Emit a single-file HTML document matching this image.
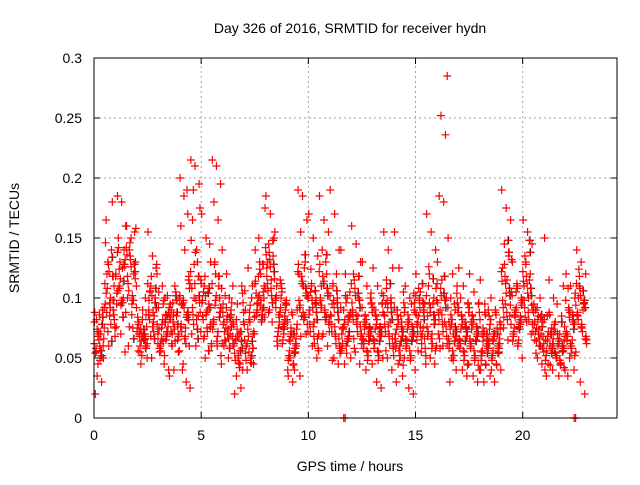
<!DOCTYPE html>
<html><head><meta charset="utf-8"><style>
body{margin:0;background:#fff}
svg text{font-family:"Liberation Sans",sans-serif;font-size:14px;fill:#000}
</style></head><body>
<svg id="chart" width="640" height="480" viewBox="0 0 640 480" xmlns="http://www.w3.org/2000/svg">
<rect width="640" height="480" fill="#fff"/>
<text x="350" y="33" text-anchor="middle">Day 326 of 2016, SRMTID for receiver hydn</text>
<text x="350" y="471" text-anchor="middle">GPS time / hours</text>
<text transform="translate(19,238) rotate(-90)" text-anchor="middle">SRMTID / TECUs</text>
<g id="grid"></g><g id="blackmarks"></g><g id="marks"></g>
<rect x="94" y="58" width="523" height="360" fill="none" stroke="#000" stroke-width="1"/>
<g id="axes"></g>
</svg>
<script>
const xTicks=[0,5,10,15,20];
const yTicks=[0,0.05,0.1,0.15,0.2,0.25,0.3];
const yTickLabels=["0","0.05","0.1","0.15","0.2","0.25","0.3"];
const binWidth=0.5;
const binValues=[
[80,65,50,35,30,20,60,75,45,90,55,70],
[95,85,110,130,180,165,100,75,60,90,120,140],
[120,130,140,185,180,160,110,100,95,70,55,150,125],
[160,150,130,140,120,100,95,110,135,155,60,75],
[75,70,60,55,65,80,90,50,45,100,70,65],
[155,135,120,110,100,90,80,70,50,125,105,85],
[105,95,85,75,65,55,45,40,110,70,60,100],
[35,40,55,70,85,95,110,100,80,65,90,105],
[200,185,170,160,140,115,95,75,60,40,30,25,45,190],
[215,210,195,165,140,115,100,85,70,60,175,190,130],
[170,150,130,110,95,85,75,60,50,145,105,90],
[215,210,195,180,165,140,120,100,80,60,45,130,110],
[95,85,80,75,70,60,50,110,120,90,65,100],
[60,50,40,35,25,20,70,80,95,110,65,45],
[65,55,45,40,100,90,80,70,125,110,60,50],
[140,130,110,100,90,85,120,175,150,105,95,80],
[185,170,155,145,135,125,115,100,90,150,130,80],
[110,100,90,80,70,60,105,95,115,85,75,65],
[80,70,60,50,40,35,30,90,75,55,65,45],
[190,185,165,155,130,120,110,100,85,70,35,125],
[170,150,135,110,100,90,80,70,60,50,105,95],
[185,165,155,140,120,100,90,80,70,60,110,130],
[190,170,140,110,100,85,70,60,50,45,95,120],
[140,120,105,90,80,70,60,50,45,85,75,100],
[160,145,130,115,100,90,80,70,55,45,120,85],
[130,110,95,85,75,65,55,45,40,100,80,70],
[125,110,95,85,75,65,55,50,30,25,90,70],
[155,140,125,115,100,85,70,60,50,40,95,80],
[155,125,105,90,80,70,60,50,45,35,30,85],
[110,100,90,80,70,60,50,40,25,20,65,95],
[120,105,95,85,75,65,55,45,100,90,80,70],
[170,155,140,120,100,85,70,60,50,45,110,95],
[130,115,100,90,80,70,60,285,252,236,185,180],
[150,120,110,100,90,80,70,60,50,40,30,95],
[125,110,95,85,75,65,55,45,40,35,100,80],
[120,105,95,85,70,60,50,40,35,30,80,65],
[115,95,85,75,65,55,45,35,30,90,70,60],
[100,90,80,70,60,50,45,40,30,55,65,75],
[190,175,165,145,135,125,115,105,95,85,75,65],
[130,110,100,90,80,70,60,50,105,85,75,65],
[165,155,145,130,120,110,100,90,80,70,135,115],
[95,85,80,75,70,65,60,55,50,45,90,100],
[150,115,100,85,75,65,60,55,45,40,35,70],
[80,70,65,60,55,50,45,40,35,110,95,85],
[120,110,100,90,80,70,60,55,50,40,35,65],
[140,130,120,110,95,85,75,65,30,20,100,90]
];
const binValuesDense=[
[62,72,84,58,48,92,68,78,54,86,66,74,52,88,70,60,82,56],
[112,122,98,88,78,68,128,118,104,92,82,72,134,146,96,86,108,64],
[118,108,128,138,98,88,124,114,104,94,132,142,84,76,116,126,106,96],
[142,132,122,112,102,92,146,128,118,86,158,76,66,136,126,116,106,98],
[72,64,58,78,68,62,74,66,56,82,76,60,70,84,52,86,68,74],
[112,102,92,82,72,62,118,108,98,88,78,68,96,86,76,128,106,66],
[92,82,72,62,52,88,78,68,58,98,76,66,86,74,64,102,56,80],
[92,86,78,72,64,56,96,88,82,74,68,60,98,84,76,70,62,102],
[102,92,82,72,62,112,98,88,78,68,108,96,86,76,66,118,94,84],
[122,112,102,92,82,72,128,118,108,98,88,78,66,148,138,96,86,74],
[112,102,92,82,72,62,118,108,98,88,78,68,56,96,86,76,66,104],
[112,102,92,82,72,62,98,88,78,68,108,94,84,74,64,52,128,118],
[88,82,76,72,66,62,92,86,80,74,68,64,84,78,70,96,102,58],
[78,68,58,48,42,88,74,64,54,46,96,82,72,62,52,104,66,56],
[78,68,58,48,94,84,74,64,54,88,72,62,52,106,82,70,60,46],
[112,102,92,88,98,108,118,128,104,94,84,96,86,114,124,100,90,82],
[142,132,122,112,102,92,138,128,118,108,98,88,148,136,126,116,106,96],
[102,92,82,72,62,98,88,78,68,108,94,84,74,64,112,96,86,76],
[82,72,62,52,44,78,68,58,48,86,74,64,54,40,88,66,56,70],
[122,112,102,92,82,72,118,108,98,88,78,68,136,128,114,104,94,84],
[102,92,82,72,62,56,98,88,78,68,58,112,96,86,76,66,124,106],
[122,112,102,92,82,72,118,108,98,88,78,68,136,128,114,104,94,84],
[102,92,82,72,62,54,98,88,78,68,58,112,96,86,76,66,48,106],
[92,82,72,62,54,88,78,68,58,96,86,76,66,56,102,84,74,64],
[112,102,92,82,72,62,108,98,88,78,68,58,118,96,86,76,66,104],
[92,82,72,62,52,88,78,68,58,48,96,86,76,66,56,104,74,64],
[92,82,72,62,52,88,78,68,58,48,96,86,76,66,56,104,74,64],
[102,92,82,72,62,52,98,88,78,68,58,108,96,86,76,66,56,112],
[92,82,72,62,52,88,78,68,58,48,96,86,76,66,56,44,74,64],
[92,82,72,62,52,88,78,68,58,48,96,86,76,66,56,104,74,64],
[102,92,82,72,62,52,98,88,78,68,58,108,96,86,76,66,56,112],
[102,92,82,72,62,98,88,78,68,58,108,96,86,76,66,56,126,116],
[112,102,92,82,72,62,108,98,88,78,68,58,118,96,86,76,66,104],
[92,82,72,62,52,88,78,68,58,48,96,86,76,66,56,104,74,64],
[92,82,72,62,52,88,78,68,58,48,96,86,76,66,56,44,74,64],
[92,82,72,62,52,88,78,68,58,48,96,86,76,66,56,44,74,64],
[82,72,62,52,44,78,68,58,48,86,74,64,54,40,88,66,56,70],
[82,72,62,52,44,78,68,58,48,86,74,64,54,40,88,66,56,70],
[122,112,102,92,82,132,118,108,98,88,78,128,138,114,104,94,84,148],
[102,92,82,72,62,98,88,78,68,108,94,84,74,64,112,96,86,76],
[122,112,102,92,82,72,118,108,98,88,78,128,138,114,104,94,84,148],
[88,82,76,72,66,62,92,86,80,74,68,64,84,78,70,58,54,60],
[82,72,62,52,44,78,68,58,48,86,74,64,54,40,88,66,56,70],
[72,64,58,52,46,68,62,56,50,44,76,66,60,54,48,42,70,80],
[98,88,78,68,58,94,84,74,64,54,104,92,82,72,62,52,108,86],
[112,102,92,82,72,62,108,98,88,78,68,118,96,86,76,66,124,106]
];
const zeroTimes=[11.65,22.4];
const NS="http://www.w3.org/2000/svg";
const X0=94,X1=617,XMAX=24.4,Y0=418,Y1=58,YMAX=0.3;
function xs(t){return X0+(X1-X0)*t/XMAX;}
function ys(v){return Y0-(Y0-Y1)*v/YMAX;}
function mk(tag,attrs,parent){const e=document.createElementNS(NS,tag);for(const k in attrs)e.setAttribute(k,attrs[k]);parent.appendChild(e);return e;}
const grid=document.getElementById('grid'),axes=document.getElementById('axes'),marks=document.getElementById('marks'),blackmarks=document.getElementById('blackmarks');
xTicks.forEach(t=>{const x=xs(t);
 if(t>0){const g=mk('line',{x1:x,x2:x,y1:Y0,y2:Y1,stroke:'#a0a0a0','stroke-dasharray':'2,3'},grid);
 
 }
 mk('line',{x1:x,x2:x,y1:Y0,y2:Y0-6,stroke:'#000'},axes);
 mk('line',{x1:x,x2:x,y1:Y1,y2:Y1+6,stroke:'#000'},axes);
 const l=mk('text',{x:x,y:Y0+22,'text-anchor':'middle'},axes);l.textContent=String(t);
 
 
});
yTicks.forEach((v,i)=>{const y=ys(v);
 if(v>0&&v<YMAX){const g=mk('line',{x1:X0,x2:X1,y1:y,y2:y,stroke:'#a0a0a0','stroke-dasharray':'2,3'},grid);
 
 }
 mk('line',{x1:X0,x2:X0+6,y1:y,y2:y,stroke:'#000'},axes);
 mk('line',{x1:X1,x2:X1-6,y1:y,y2:y,stroke:'#000'},axes);
 const l=mk('text',{x:X0-12,y:y+5,'text-anchor':'end'},axes);l.textContent=yTickLabels[i];
 
 
});
function plus(t,v,color,parent){const x=xs(t),y=ys(v);
 const p=mk('path',{d:`M${x-4},${y}H${x+4}M${x},${y-4}V${y+4}`,stroke:color,'stroke-width':1.2,fill:'none'},parent);
 
 
}
function drawBins(bins,step,shift,withBlack){
 bins.forEach((arr,b)=>{const n=arr.length;
  arr.forEach((v,j)=>{const perm=(j*step)%n;const t=b*binWidth+(perm+shift)*binWidth/n;
   if(withBlack&&j%5===2)plus(t+0.02,v/1000,'#000',blackmarks);
   plus(t,v/1000,'#f00',marks);});
 });
}
drawBins(binValuesDense,7,0.3,true);
drawBins(binValues,5,0.5,false);
zeroTimes.forEach(t=>{plus(t,0,'#f00',marks);plus(t+0.07,0,'#f00',marks);});
</script>
</body></html>
